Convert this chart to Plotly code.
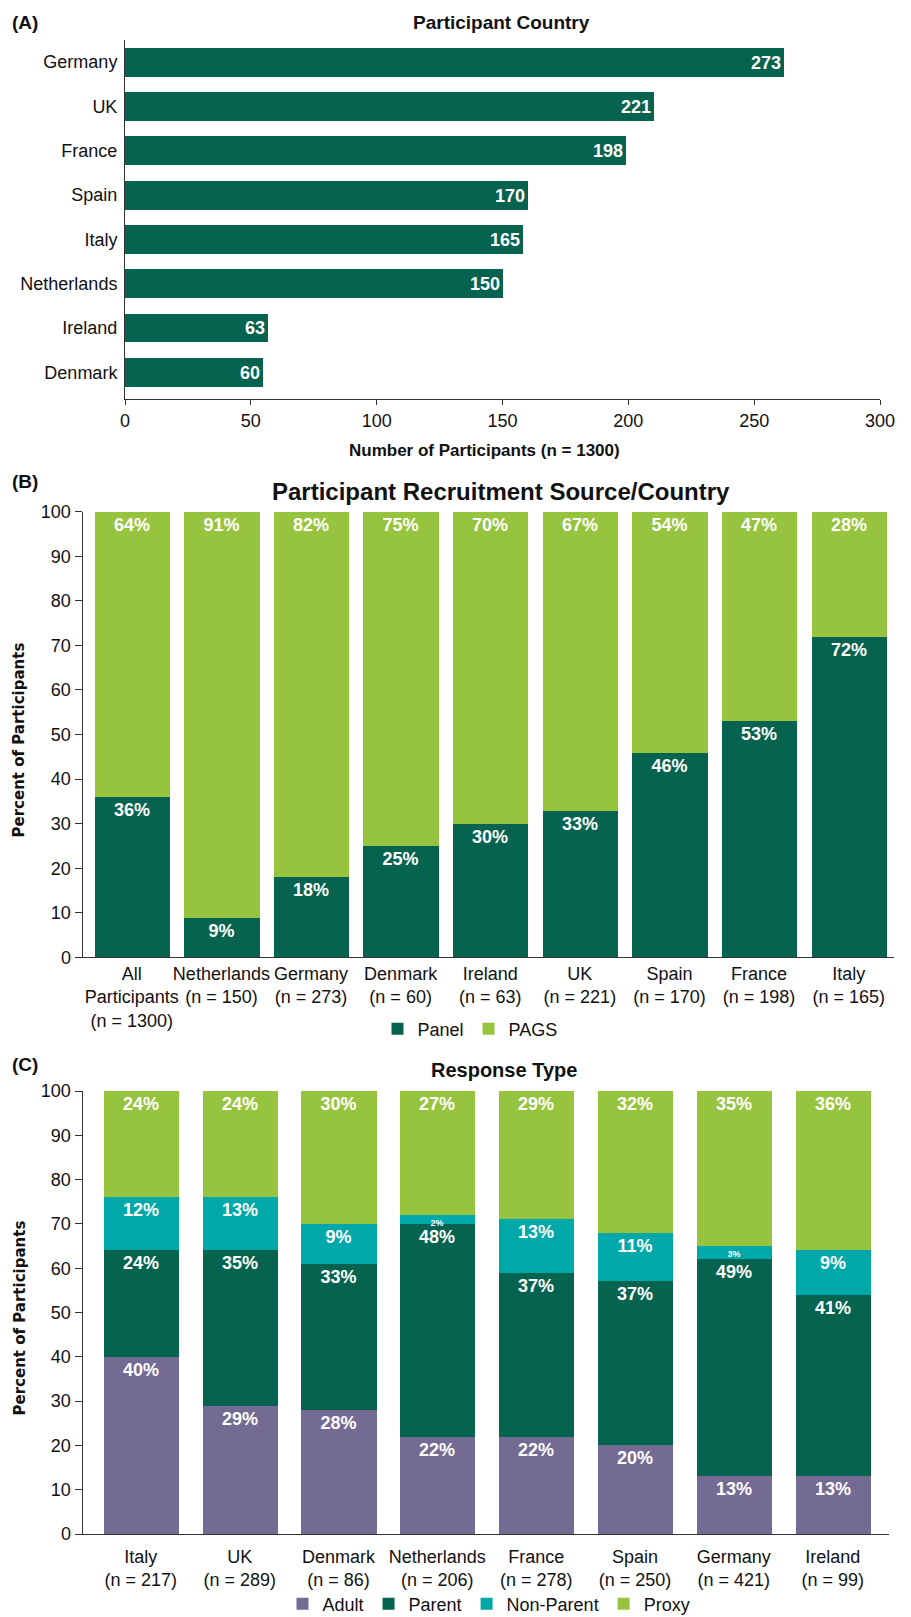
import plotly.graph_objects as go

W, H = 911, 1617

# ---------------- data ----------------
countries_a = ["Germany", "UK", "France", "Spain", "Italy", "Netherlands", "Ireland", "Denmark"]
bars_a = [262, 210, 199, 160, 158, 150, 57, 55]          # bar lengths as drawn
labels_a = ["273", "221", "198", "170", "165", "150", "63", "60"]

cats_b = ["All<br>Participants<br>(n = 1300)", "Netherlands<br>(n = 150)", "Germany<br>(n = 273)",
          "Denmark<br>(n = 60)", "Ireland<br>(n = 63)", "UK<br>(n = 221)", "Spain<br>(n = 170)",
          "France<br>(n = 198)", "Italy<br>(n = 165)"]
panel_b = [36, 9, 18, 25, 30, 33, 46, 53, 72]
pags_b = [64, 91, 82, 75, 70, 67, 54, 47, 28]

cats_c = ["Italy<br>(n = 217)", "UK<br>(n = 289)", "Denmark<br>(n = 86)", "Netherlands<br>(n = 206)",
          "France<br>(n = 278)", "Spain<br>(n = 250)", "Germany<br>(n = 421)", "Ireland<br>(n = 99)"]
adult_c = [40, 29, 28, 22, 22, 20, 13, 13]
parent_c = [24, 35, 33, 48, 37, 37, 49, 41]
nonparent_c = [12, 12, 9, 2, 12, 11, 3, 10]
proxy_c = [24, 24, 30, 28, 29, 32, 35, 36]
adult_lbl = [40, 29, 28, 22, 22, 20, 13, 13]
parent_lbl = [24, 35, 33, 48, 37, 37, 49, 41]
nonparent_lbl = [12, 13, 9, 2, 13, 11, 3, 9]
proxy_lbl = [24, 24, 30, 27, 29, 32, 35, 36]

# ---------------- style ----------------
DARK = "#06634F"
LIGHT = "#97C43E"
TEAL = "#00A8A9"
PURPLE = "#736B93"
AXC = "#333333"
SANS = "Liberation Sans, Arial, Helvetica, sans-serif"
WIDE = "DejaVu Sans, Verdana, sans-serif"


def xf(px):
    return px / W


def yf(py):
    return 1 - py / H


def pct(v):
    return [f"{x}%" for x in v]


fig = go.Figure()

BAR_FS = 18


def bar_font(sizes=None):
    return dict(family=SANS, size=sizes if sizes is not None else BAR_FS, color="white")


# Panel A
fig.add_trace(go.Bar(
    y=countries_a, x=bars_a, orientation="h", marker_color=DARK, width=0.65,
    text=[f"<b>{t}</b>" for t in labels_a], textposition="inside", insidetextanchor="end",
    textfont=bar_font(), textangle=0, xaxis="x", yaxis="y", showlegend=False,
))

# Panel B
for vals, name, col in [(panel_b, "Panel", DARK), (pags_b, "PAGS", LIGHT)]:
    fig.add_trace(go.Bar(
        x=cats_b, y=vals, name=name, marker_color=col, width=0.84,
        text=[f"<b>{t}</b>" for t in pct(vals)], textposition="inside", insidetextanchor="end",
        textfont=bar_font(), textangle=0, xaxis="x2", yaxis="y2", legend="legend",
    ))

# Panel C
for vals, lbls, name, col in [(adult_c, adult_lbl, "Adult", PURPLE),
                              (parent_c, parent_lbl, "Parent", DARK),
                              (nonparent_c, nonparent_lbl, "Non-Parent", TEAL),
                              (proxy_c, proxy_lbl, "Proxy", LIGHT)]:
    sizes = [BAR_FS if v >= 5 else 9 for v in vals]
    fig.add_trace(go.Bar(
        x=cats_c, y=vals, name=name, marker_color=col, width=0.76,
        text=[f"<b>{t}</b>" for t in pct(lbls)], textposition="inside", insidetextanchor="end",
        textfont=bar_font(sizes), textangle=0, constraintext="none",
        xaxis="x3", yaxis="y3", legend="legend2",
    ))

tickfont = dict(family=SANS, size=18, color="#111111")
common = dict(showgrid=False, zeroline=False, showline=True, linecolor=AXC, linewidth=1,
              automargin=False, tickfont=tickfont)
legfont = dict(family=SANS, size=18, color="#111111")

fig.update_layout(
    template="none",
    width=W, height=H, autosize=False,
    margin=dict(l=0, r=0, t=0, b=0, pad=0, autoexpand=False),
    paper_bgcolor="white", plot_bgcolor="white",
    barmode="stack", bargap=0,
    font=dict(family=SANS, size=18, color="#111111"),
    # Panel A axes
    xaxis=dict(domain=[xf(125), xf(880)], anchor="y", range=[0, 300], tickvals=[0, 50, 100, 150, 200, 250, 300],
               ticks="outside", ticklen=5, tickcolor=AXC, **common),
    yaxis=dict(domain=[yf(399), yf(40)], anchor="x", range=[7.6, -0.5], type="category",
               ticks="", ticklabelstandoff=3, **common),
    # Panel B axes
    xaxis2=dict(domain=[xf(82.5), xf(893.5)], anchor="y2", range=[-0.55, 8.5], type="category",
                ticks="", tickangle=0, **common),
    yaxis2=dict(domain=[yf(957.4), yf(511.7)], anchor="x2", range=[0, 100], dtick=10,
                ticks="outside", ticklen=7, tickcolor=AXC, **common),
    # Panel C axes
    xaxis3=dict(domain=[xf(82.5), xf(889)], anchor="y3", range=[-0.59, 7.57], type="category",
                ticks="", tickangle=0, ticklabelstandoff=6, **common),
    yaxis3=dict(domain=[yf(1534), yf(1091)], anchor="x3", range=[0, 100], dtick=10,
                ticks="outside", ticklen=7, tickcolor=AXC, **common),
    legend=dict(orientation="h", x=xf(470), y=yf(1029), xanchor="center", yanchor="middle",
                font=legfont, traceorder="normal", itemwidth=30,
                bgcolor="rgba(0,0,0,0)", borderwidth=0),
    legend2=dict(orientation="h", x=xf(489), y=yf(1604), xanchor="center", yanchor="middle",
                 font=legfont, traceorder="normal", itemwidth=30,
                 bgcolor="rgba(0,0,0,0)", borderwidth=0),
)

annots = [
    dict(text="<b>(A)</b>", x=xf(10), y=yf(22), xanchor="left", size=19),
    dict(text="<b>Participant Country</b>", x=xf(501), y=yf(22), xanchor="center", size=19),
    dict(text="<b>Number of Participants (n = 1300)</b>", x=xf(485), y=yf(451), xanchor="center", size=17),
    dict(text="<b>(B)</b>", x=xf(10), y=yf(482), xanchor="left", size=19),
    dict(text="<b>Participant Recruitment Source/Country</b>", x=xf(501), y=yf(492), xanchor="center", size=24),
    dict(text="<b>(C)</b>", x=xf(10), y=yf(1064), xanchor="left", size=19),
    dict(text="<b>Response Type</b>", x=xf(504), y=yf(1070), xanchor="center", size=20),
]
for a in annots:
    fig.add_annotation(text=a["text"], x=a["x"], y=a["y"], xref="paper", yref="paper",
                       xanchor=a["xanchor"], yanchor="middle", showarrow=False,
                       font=dict(family=SANS, size=a["size"], color="#111111"))

for yc in [740.5, 1318.5]:
    fig.add_annotation(text="<b>Percent of Participants</b>", x=xf(19), y=yf(yc), xref="paper", yref="paper",
                       xanchor="center", yanchor="middle", showarrow=False, textangle=-90,
                       font=dict(family=WIDE, size=15, color="#111111"))

fig.write_html("out.html", config={"displayModeBar": False},
               post_script="document.body.style.margin='0px';document.body.style.overflow='hidden';")
